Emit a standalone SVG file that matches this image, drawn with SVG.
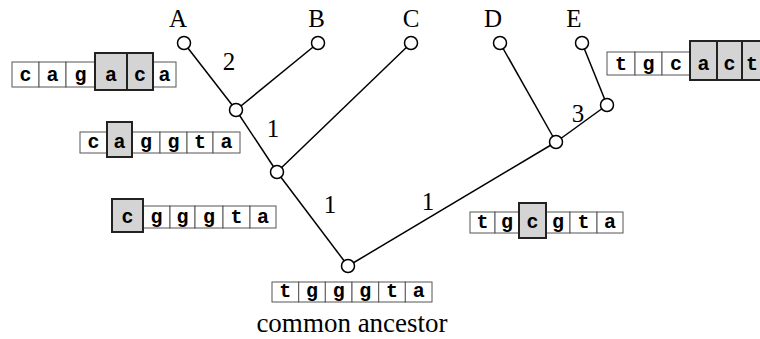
<svg xmlns="http://www.w3.org/2000/svg" width="760" height="339" viewBox="0 0 760 339">
<style>
.bg{fill:#fff}
.edge{stroke:#000;stroke-width:1.5;fill:none}
.node{fill:#fff;stroke:#000;stroke-width:1.5}
.lbl{font-family:"Liberation Serif","Times New Roman",serif;font-size:25px;fill:#000;text-anchor:middle}
.cap{font-family:"Liberation Serif","Times New Roman",serif;font-size:27px;fill:#000;text-anchor:middle}
.cell{fill:#fff;stroke:#555;stroke-width:1}
.hl{fill:#d4d4d4;stroke:#222;stroke-width:2}
.seq{font-family:"Liberation Mono","Courier New",monospace;font-size:20px;font-weight:bold;fill:#000;text-anchor:middle}
</style>
<rect class="bg" x="0" y="0" width="760" height="339"/>
<g id="connectors">
<line class="edge" x1="184" y1="43" x2="236" y2="110"/>
<line class="edge" x1="318" y1="43" x2="236" y2="110"/>
<line class="edge" x1="236" y1="110" x2="277" y2="172"/>
<line class="edge" x1="411" y1="43" x2="277" y2="172"/>
<line class="edge" x1="277" y1="172" x2="348" y2="266"/>
<line class="edge" x1="348" y1="266" x2="556" y2="142"/>
<line class="edge" x1="500" y1="43" x2="556" y2="142"/>
<line class="edge" x1="556" y1="142" x2="607" y2="105"/>
<line class="edge" x1="582" y1="43" x2="607" y2="105"/>
<text class="lbl" x="229" y="70">2</text>
<text class="lbl" x="273" y="137">1</text>
<text class="lbl" x="330" y="213">1</text>
<text class="lbl" x="428" y="210">1</text>
<text class="lbl" x="578" y="122">3</text>
</g>
<g id="leafA"><circle class="node" cx="184" cy="43" r="6.5"/><text class="lbl" x="178" y="27">A</text></g>
<g id="leafB"><circle class="node" cx="318" cy="43" r="6.5"/><text class="lbl" x="316.5" y="27">B</text></g>
<g id="leafC"><circle class="node" cx="411" cy="43" r="6.5"/><text class="lbl" x="411" y="27">C</text></g>
<g id="leafD"><circle class="node" cx="500" cy="43" r="6.5"/><text class="lbl" x="493" y="27">D</text></g>
<g id="leafE"><circle class="node" cx="582" cy="43" r="6.5"/><text class="lbl" x="574" y="27">E</text></g>
<g id="nodeAB"><circle class="node" cx="236" cy="110" r="6.5"/></g>
<g id="nodeABC"><circle class="node" cx="277" cy="172" r="6.5"/></g>
<g id="nodeDE"><circle class="node" cx="556" cy="142" r="6.5"/></g>
<g id="nodeE"><circle class="node" cx="607" cy="105" r="6.5"/></g>
<g id="root"><circle class="node" cx="348" cy="266" r="6.5"/></g>

<g id="seqA">
<rect class="cell" x="12" y="62" width="27" height="25"/>
<rect class="cell" x="39" y="62" width="27" height="25"/>
<rect class="cell" x="66" y="62" width="29" height="25"/>
<rect class="cell" x="153" y="62" width="23" height="25"/>
<rect class="hl" x="95" y="53" width="32" height="37"/>
<rect class="hl" x="127" y="53" width="26" height="37"/>
<text class="seq" x="25.5" y="81">c</text>
<text class="seq" x="52.5" y="81">a</text>
<text class="seq" x="80.5" y="81">g</text>
<text class="seq" x="111" y="81">a</text>
<text class="seq" x="140" y="81">c</text>
<text class="seq" x="164.5" y="81">a</text>
</g>

<g id="seqE">
<rect class="cell" x="607" y="52" width="28" height="23"/>
<rect class="cell" x="635" y="52" width="27" height="23"/>
<rect class="cell" x="662" y="52" width="28" height="23"/>
<rect class="hl" x="690" y="41" width="27" height="39"/>
<rect class="hl" x="717" y="41" width="25" height="39"/>
<rect class="hl" x="742" y="41" width="26" height="39"/>
<text class="seq" x="621" y="70">t</text>
<text class="seq" x="648.5" y="70">g</text>
<text class="seq" x="676" y="70">c</text>
<text class="seq" x="703.5" y="70">a</text>
<text class="seq" x="729.5" y="70">c</text>
<text class="seq" x="752" y="70">t</text>
</g>

<g id="seqAB">
<rect class="cell" x="80" y="132" width="27" height="21"/>
<rect class="cell" x="132" y="132" width="28" height="21"/>
<rect class="cell" x="160" y="132" width="27" height="21"/>
<rect class="cell" x="187" y="132" width="26" height="21"/>
<rect class="cell" x="213" y="132" width="27" height="21"/>
<rect class="hl" x="107" y="122" width="25" height="35"/>
<text class="seq" x="93.5" y="148">c</text>
<text class="seq" x="119.5" y="148">a</text>
<text class="seq" x="146" y="148">g</text>
<text class="seq" x="173.5" y="148">g</text>
<text class="seq" x="200" y="148">t</text>
<text class="seq" x="226.5" y="148">a</text>
</g>

<g id="seqABC">
<rect class="cell" x="143" y="206" width="27" height="22"/>
<rect class="cell" x="170" y="206" width="25" height="22"/>
<rect class="cell" x="195" y="206" width="28" height="22"/>
<rect class="cell" x="223" y="206" width="27" height="22"/>
<rect class="cell" x="250" y="206" width="26" height="22"/>
<rect class="hl" x="112" y="199" width="31" height="33"/>
<text class="seq" x="127.5" y="223">c</text>
<text class="seq" x="156.5" y="223">g</text>
<text class="seq" x="182.5" y="223">g</text>
<text class="seq" x="209" y="223">g</text>
<text class="seq" x="236.5" y="223">t</text>
<text class="seq" x="263" y="223">a</text>
</g>

<g id="seqDE">
<rect class="cell" x="470" y="212" width="25" height="21"/>
<rect class="cell" x="495" y="212" width="24" height="21"/>
<rect class="cell" x="546" y="212" width="24" height="21"/>
<rect class="cell" x="570" y="212" width="27" height="21"/>
<rect class="cell" x="597" y="212" width="26" height="21"/>
<rect class="hl" x="519" y="203" width="27" height="35"/>
<text class="seq" x="482.5" y="228">t</text>
<text class="seq" x="507" y="228">g</text>
<text class="seq" x="532.5" y="228">c</text>
<text class="seq" x="558" y="228">g</text>
<text class="seq" x="583.5" y="228">t</text>
<text class="seq" x="610" y="228">a</text>
</g>

<g id="seqRoot">
<rect class="cell" x="272" y="282" width="26.7" height="20"/>
<rect class="cell" x="298.7" y="282" width="26.7" height="20"/>
<rect class="cell" x="325.3" y="282" width="26.7" height="20"/>
<rect class="cell" x="352" y="282" width="26.7" height="20"/>
<rect class="cell" x="378.7" y="282" width="26.7" height="20"/>
<rect class="cell" x="405.3" y="282" width="26.7" height="20"/>
<text class="seq" x="285.3" y="297">t</text>
<text class="seq" x="312" y="297">g</text>
<text class="seq" x="338.7" y="297">g</text>
<text class="seq" x="365.3" y="297">g</text>
<text class="seq" x="392" y="297">t</text>
<text class="seq" x="418.7" y="297">a</text>
<text class="cap" x="352" y="332">common ancestor</text>
</g>
</svg>
